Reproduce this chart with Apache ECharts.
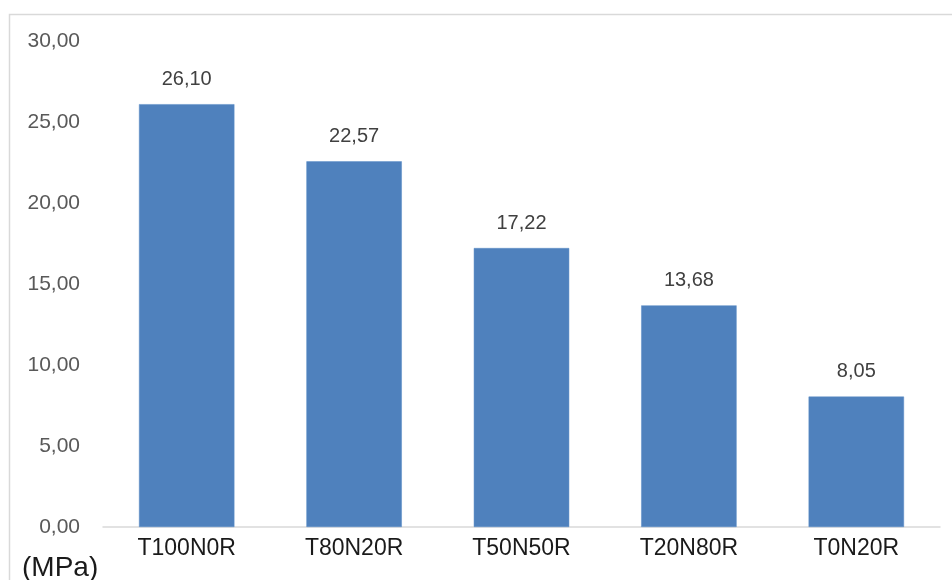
<!DOCTYPE html>
<html>
<head>
<meta charset="utf-8">
<script src="https://cdn.jsdelivr.net/npm/echarts@6/dist/echarts.min.js"></script>
<style>
  html, body { margin: 0; padding: 0; background: #fff; }
  #chart { width: 952px; height: 580px; }
</style>
</head>
<body>
<div id="chart"></div>
<script>
// Compressive strength per mix
const categories = ['T100N0R', 'T80N20R', 'T50N50R', 'T20N80R', 'T0N20R'];
const strength = [26.10, 22.57, 17.22, 13.68, 8.05];
const yTicks = { min: 0, max: 30, interval: 5 };

const fmt = v => v.toFixed(2).replace('.', ',');

const chart = echarts.init(document.getElementById('chart'));
chart.setOption({
  animation: false,
  backgroundColor: '#ffffff',
  grid: { left: 103, right: 12, top: 41, bottom: 53 },
  xAxis: {
    type: 'category',
    data: categories,
    axisLine: { lineStyle: { color: '#d9d9d9', width: 1.5 } },
    axisTick: { show: false },
    axisLabel: {
      color: '#1a1a1a',
      fontFamily: 'Liberation Sans',
      fontSize: 23,
      margin: 10
    }
  },
  yAxis: {
    type: 'value',
    min: yTicks.min,
    max: yTicks.max,
    interval: yTicks.interval,
    splitLine: { show: false },
    axisLine: { show: false },
    axisTick: { show: false },
    axisLabel: {
      color: '#595959',
      fontFamily: 'Liberation Sans',
      fontSize: 21,
      margin: 23,
      formatter: fmt
    }
  },
  series: [{
    type: 'bar',
    data: strength,
    barWidth: '57%',
    itemStyle: { color: '#4f81bd', borderColor: '#5b8cc6', borderWidth: 0.5 },
    label: {
      show: true,
      position: 'top',
      distance: 15,
      color: '#404040',
      fontFamily: 'Liberation Sans',
      fontSize: 20,
      formatter: p => fmt(p.value)
    }
  }],
  graphic: [
    {
      type: 'rect',
      shape: { x: 9.5, y: 14.5, width: 960, height: 600 },
      style: { fill: 'none', stroke: '#d9d9d9', lineWidth: 1.5 },
      silent: true
    },
    {
      type: 'text',
      left: 22,
      top: 554,
      style: {
        text: '(MPa)',
        fill: '#1a1a1a',
        font: '28px "Liberation Sans"'
      }
    }
  ]
});
</script>
</body>
</html>
